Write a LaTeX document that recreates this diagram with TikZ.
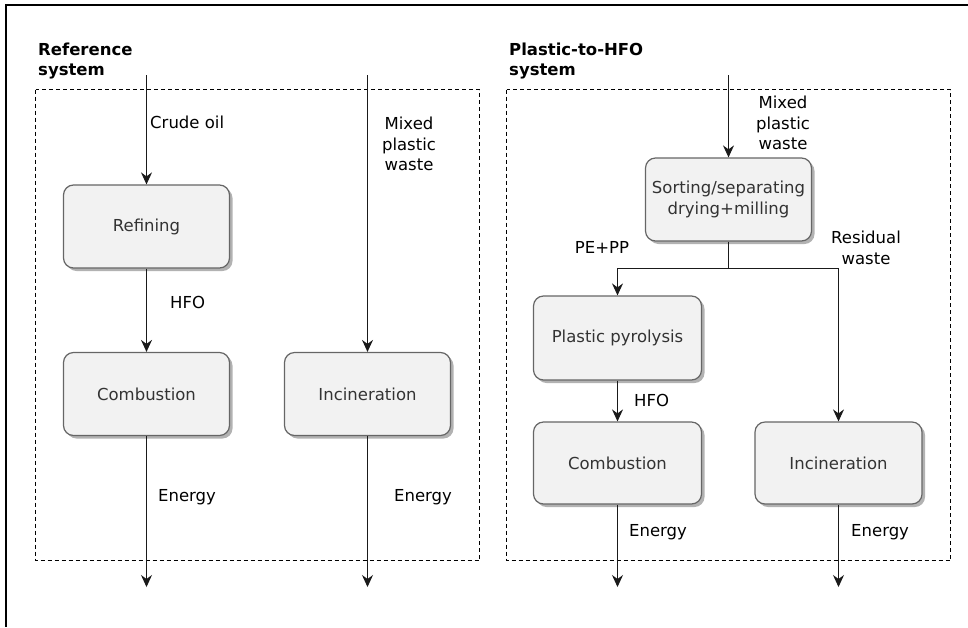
\documentclass[tikz,border=0pt]{standalone}
\usepackage{fontspec}
\setmainfont{DejaVu Sans}
\usetikzlibrary{arrows.meta,shadows}
\definecolor{boxfill}{HTML}{F2F2F2}
\definecolor{boxline}{HTML}{666666}
\definecolor{boxtext}{HTML}{333333}
\definecolor{flowline}{HTML}{1A1A1A}
\begin{document}
\begin{tikzpicture}[x=1pt,y=-1pt,
  txt/.style={font=\fontsize{16.5}{20.5}\selectfont, inner sep=0pt},
  title/.style={font=\bfseries\fontsize{16.5}{20.5}\selectfont, inner sep=0pt, align=left, anchor=west},
  process/.style={rectangle, rounded corners=10pt, draw=boxline, line width=1.2pt,
    fill=boxfill, text=boxtext, font=\fontsize{16.5}{20.5}\selectfont, align=center,
    minimum width=166pt, minimum height=83pt, inner sep=2pt,
    drop shadow={shadow xshift=3pt, shadow yshift=-3pt, fill=black!30, opacity=1}},
  flow/.style={draw=flowline, line width=1pt, -{Stealth[length=12pt,width=11pt,inset=4pt]}},
  plain/.style={draw=flowline, line width=1pt},
  sysbox/.style={draw=black, line width=0.9pt, dash pattern=on 4pt off 3pt}]

\useasboundingbox (0,0) rectangle (968,627);

% frame (top and left edges)
\draw[line width=2pt] (968,5) -- (6,5) -- (6,627);

% system boundaries
\draw[sysbox] (35.5,89.5) rectangle (479.5,560.5);
\draw[sysbox] (506.5,89.5) rectangle (950.5,560.5);

% titles
\node[title] (t1) at (38,61) {Reference\\system};
\node[title] (t2) at (509,61) {Plastic-to-HFO\\system};

% reference system
\node[process] (refin) at (146.5,226.5) {Refining};
\node[process] (comb1) at (146.5,394) {Combustion};
\node[process] (inc1) at (367.5,394) {Incineration};

\coordinate (s1) at (146.5,75);
\coordinate (s2) at (367.5,75);
\coordinate (e1) at (146.5,587);
\coordinate (e2) at (367.5,587);

\draw[flow] (s1) -- (refin.north);
\draw[flow] (refin.south) -- (comb1.north);
\draw[flow] (comb1.south) -- (e1);
\draw[flow] (s2) -- (inc1.north);
\draw[flow] (inc1.south) -- (e2);

\node[txt, anchor=west] (l1) at (150,122) {Crude oil};
\node[txt, align=center] (l2) at (409,144) {Mixed\\plastic\\waste};
\node[txt, anchor=west] (l3) at (170,302) {HFO};
\node[txt, anchor=west] (l4) at (158,497) {Energy};
\node[txt, anchor=west] (l5) at (394,497) {Energy};

% plastic-to-HFO system
\node[process] (sort) at (728.5,199.5) {Sorting/separating\\drying+milling};
\node[process, minimum width=168pt, minimum height=84pt] (pyro) at (617.5,338) {Plastic pyrolysis};
\node[process, minimum width=168pt, minimum height=82pt] (comb2) at (617.5,463) {Combustion};
\node[process, minimum width=167pt, minimum height=82pt] (inc2) at (838.5,463) {Incineration};

\coordinate (s3) at (728.5,75);
\coordinate (j) at (728.5,268.5);
\coordinate (e3) at (617.5,587);
\coordinate (e4) at (838.5,587);

\draw[flow] (s3) -- (sort.north);
\draw[plain] (sort.south) -- (j);
\draw[flow] (j) -| (pyro.north);
\draw[flow] (j) -| (inc2.north);
\draw[flow] (pyro.south) -- (comb2.north);
\draw[flow] (comb2.south) -- (e3);
\draw[flow] (inc2.south) -- (e4);

\node[txt, align=center] (r1) at (783,123) {Mixed\\plastic\\waste};
\node[txt] (r2) at (602,247) {PE+PP};
\node[txt, align=center] (r3) at (866,248) {Residual\\waste};
\node[txt, anchor=west] (r4) at (634,400) {HFO};
\node[txt, anchor=west] (r5) at (629,532) {Energy};
\node[txt, anchor=west] (r6) at (851,532) {Energy};

\end{tikzpicture}
\end{document}
